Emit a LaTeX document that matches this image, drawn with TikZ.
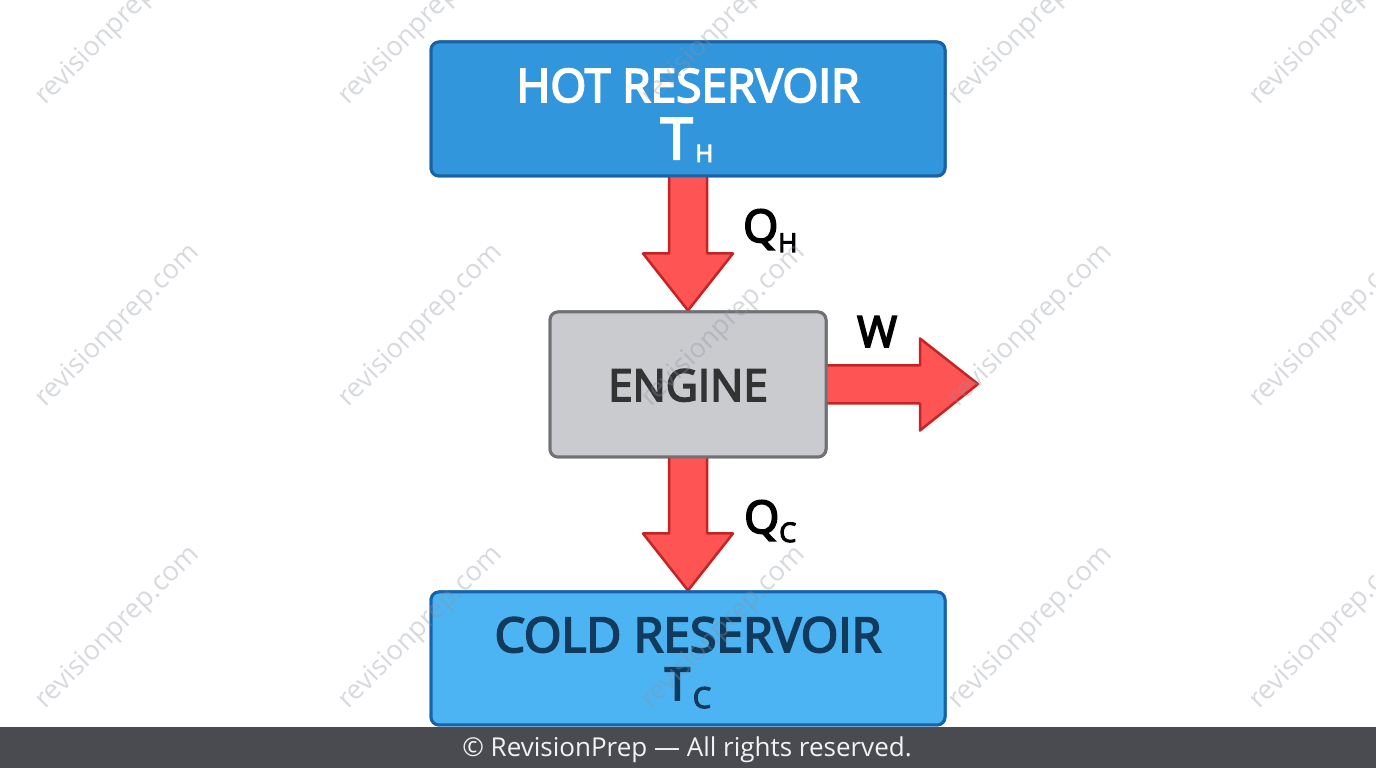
\documentclass[tikz,border=0pt]{standalone}
\usepackage{fontspec}
\setmainfont{Open Sans}
\newfontfamily\medfont[FakeBold=4]{Open Sans}
\usetikzlibrary{calc}
\definecolor{hotfill}{HTML}{3296DC}
\definecolor{hotline}{HTML}{1A62A6}
\definecolor{coldfill}{HTML}{4DB4F4}
\definecolor{coldline}{HTML}{1663A8}
\definecolor{coldtext}{HTML}{113A5C}
\definecolor{engfill}{HTML}{C9CBCE}
\definecolor{engline}{HTML}{6F7175}
\definecolor{engtext}{HTML}{333333}
\definecolor{arrfill}{HTML}{FF5454}
\definecolor{arrline}{HTML}{C42424}
\definecolor{footbg}{HTML}{4A4B50}
\definecolor{foottext}{HTML}{F2F2F2}
\definecolor{wmcol}{HTML}{8C939E}
\newcommand\fsz[1]{\fontsize{#1}{#1}\selectfont}
\tikzset{
  box/.style={draw, line width=3pt, rounded corners=8pt, inner sep=0pt},
  fat/.style={fill=arrfill, draw=arrline, line width=2.5pt, line join=round},
  lab/.style={anchor=base, inner sep=0pt, font=\medfont},
  wm/.style={rotate=45, text=wmcol, opacity=0.35, font=\fsz{27}, inner sep=0pt}
}
\newcommand\fatdown[2]{\draw[fat] let \p1=(#1), \p2=(#2) in
  (\x1-19pt,\y1+3pt) -- (\x1-19pt,\y2+57pt) -- (\x1-45pt,\y2+57pt) -- (\x2,\y2)
  -- (\x1+45pt,\y2+57pt) -- (\x1+19pt,\y2+57pt) -- (\x1+19pt,\y1+3pt) -- cycle;}
\newcommand\fatright[2]{\draw[fat] let \p1=(#1), \p2=(#2) in
  (\x1-3pt,\y1+19pt) -- (\x2-58pt,\y1+19pt) -- (\x2-58pt,\y1+46pt) -- (\x2,\y2)
  -- (\x2-58pt,\y1-46pt) -- (\x2-58pt,\y1-19pt) -- (\x1-3pt,\y1-19pt) -- cycle;}
\begin{document}
\begin{tikzpicture}[x=1pt,y=1pt]
\useasboundingbox (0,0) rectangle (1376,768);
\fill[white] (0,0) rectangle (1376,768);
% nodes (boxes)
\node[box, fill=hotfill, draw=hotline, minimum width=514pt, minimum height=134pt] (hot) at (688,659) {};
\node[box, fill=engfill, draw=engline, minimum width=276pt, minimum height=145pt] (engine) at (688,383.5) {};
\node[box, fill=coldfill, draw=coldline, minimum width=514pt, minimum height=133pt] (cold) at (688,109.5) {};
\coordinate (wtip) at (978,384);
% arrows
\fatdown{hot.south}{engine.north}
\fatdown{engine.south}{cold.north}
\fatright{engine.east}{wtip}
% redraw boxes on top of arrow ends
\node[box, fill=hotfill, draw=hotline, minimum width=514pt, minimum height=134pt] (hottop) at (hot) {};
\node[box, fill=engfill, draw=engline, minimum width=276pt, minimum height=145pt] (enginetop) at (engine) {};
\node[box, fill=coldfill, draw=coldline, minimum width=514pt, minimum height=133pt] (coldtop) at (cold) {};
% texts
\node[lab, text=white, font=\medfont\fsz{46}] (hotname) at (688,666) {HOT RESERVOIR};
\node[lab, text=white] (hotT) at (687,609) {\fsz{57}T\kern3pt\raisebox{-3pt}{\fsz{24}H}};
\node[lab, text=engtext, font=\medfont\fsz{44}] (engname) at (688,367) {ENGINE};
\node[lab, text=coldtext, font=\medfont\fsz{48}] (coldname) at (688,116) {COLD RESERVOIR};
\node[lab, text=coldtext] (coldT) at (688,68) {\fsz{45}T\kern3pt\raisebox{-8pt}{\fsz{29}C}};
\node[lab, anchor=base west, text=black] (qh) at (743,526) {\fsz{45}Q\raisebox{-10pt}{\fsz{26}H}};
\node[lab, anchor=base west, text=black] (qc) at (744,235) {\fsz{45}Q\raisebox{-9pt}{\fsz{27}C}};
\node[lab, anchor=base west, text=black, font=\medfont\fsz{43}] (w) at (857,421) {W};
% watermarks
\foreach \i/\x in {1/118,2/421,3/724,4/1031,5/1332}{
  \foreach \j/\y in {1/744,2/442,3/140}{
    \node[wm] (wm\i\j) at (\x,\y) {revisionprep.com};
  }
}
% footer
\fill[footbg] (0,0) rectangle (1376,41);
\node[anchor=base, inner sep=0pt, text=foottext, font=\fsz{26}] (foot) at (687,11) {© RevisionPrep — All rights reserved.};
\end{tikzpicture}
\end{document}
